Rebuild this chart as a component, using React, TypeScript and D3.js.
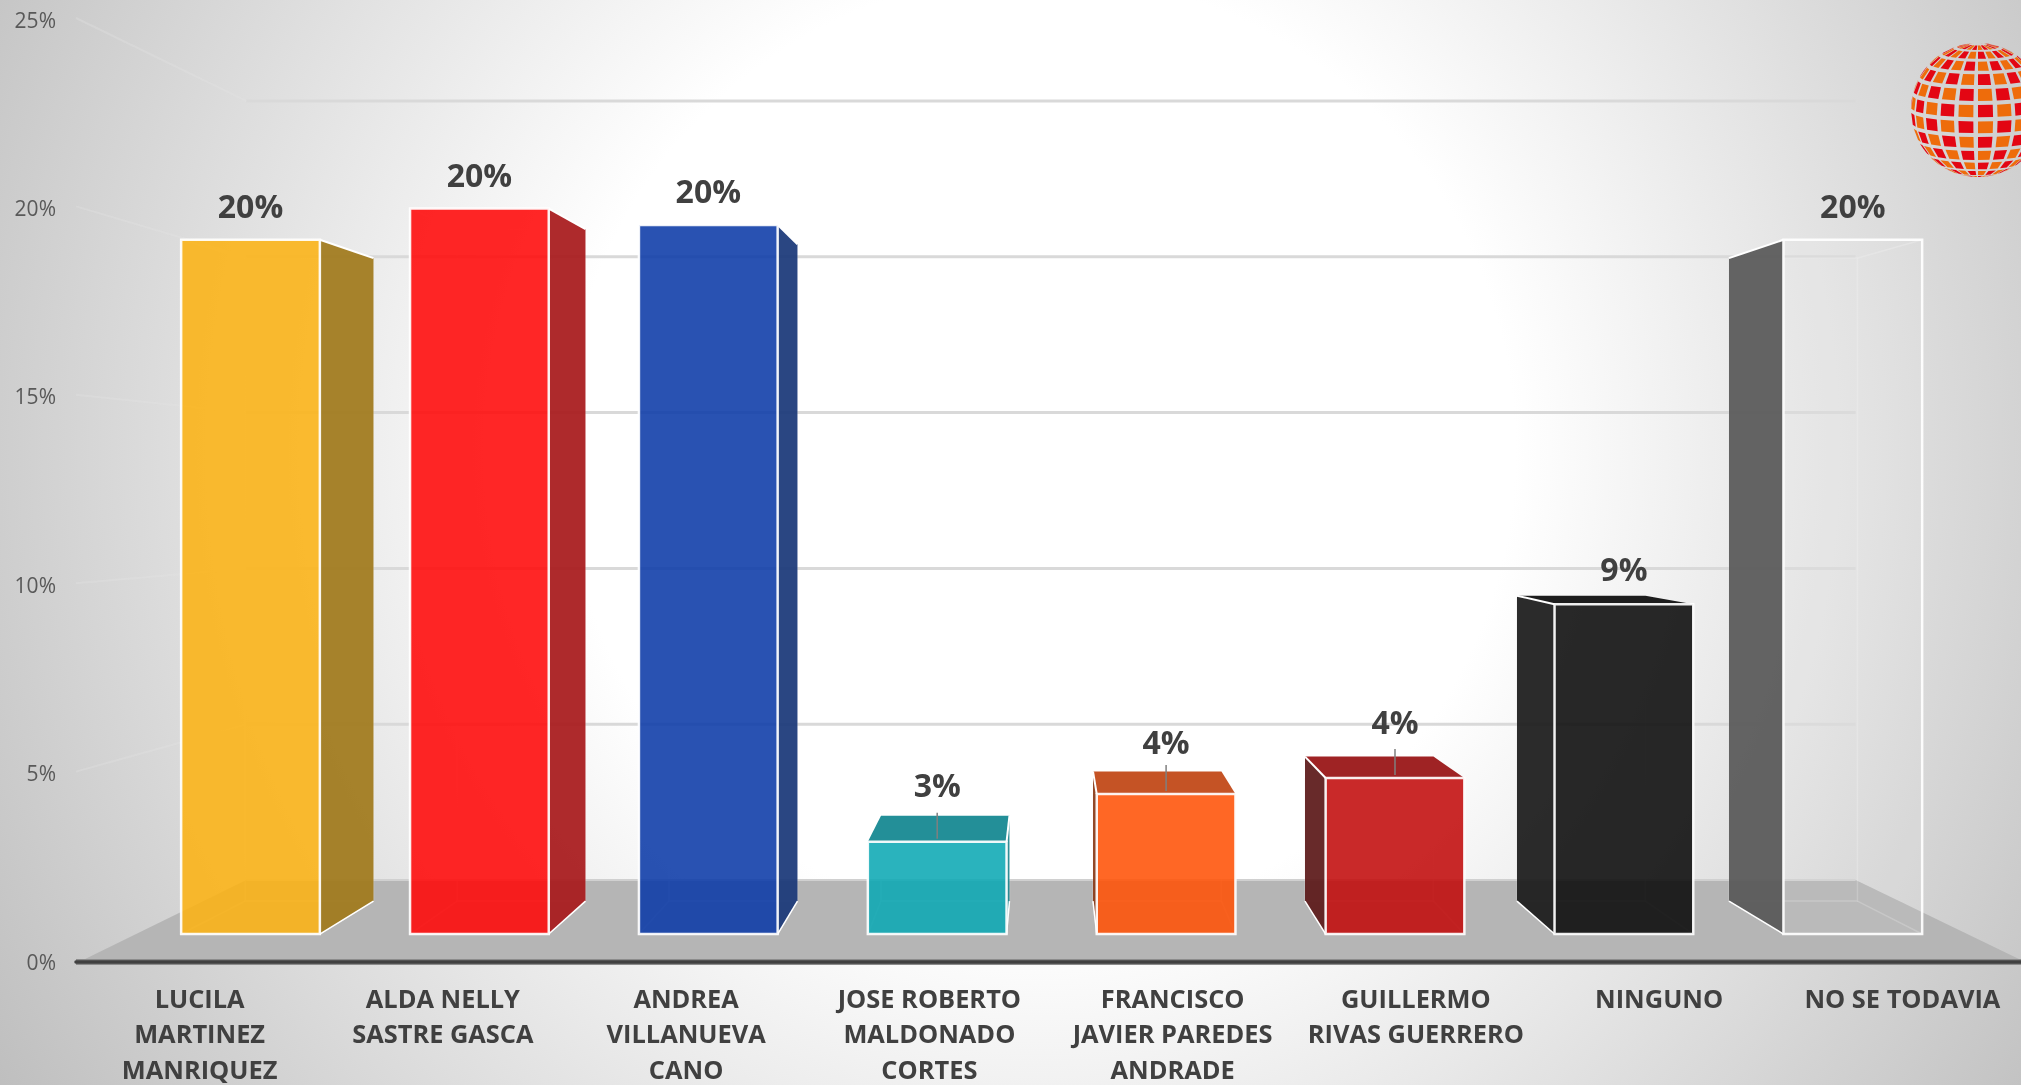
import React from "react";
import * as d3 from "d3";

const categories = [
  ["LUCILA", "MARTINEZ", "MANRIQUEZ"],
  ["ALDA NELLY", "SASTRE GASCA"],
  ["ANDREA", "VILLANUEVA", "CANO"],
  ["JOSE ROBERTO", "MALDONADO", "CORTES"],
  ["FRANCISCO", "JAVIER PAREDES", "ANDRADE"],
  ["GUILLERMO", "RIVAS GUERRERO"],
  ["NINGUNO"],
  ["NO SE TODAVIA"],
];
const values = [19.58, 20.46, 20.0, 2.6, 3.95, 4.4, 9.3, 19.58];
const frontColors = ["#fcb314", "#ff0808", "#0b3aa7", "#0ca9b4", "#ff5207", "#c10b0b", "#0a0a0a", "#ffffff"];
const frontOpacity = [0.88, 0.88, 0.88, 0.88, 0.88, 0.88, 0.88, 0.07];
const sideColors = ["#a07a1c", "#a81a1c", "#1a3878", "#1f858f", "#8a3a18", "#5c1a1a", "#1b1b1b", "#585858"];
const topColors = ["#a07a1c", "#a81a1c", "#1a3878", "#238f98", "#c55325", "#9f2324", "#1d1d1d", "#585858"];
const ticks = [0, 5, 10, 15, 20, 25];
const labelGaps = [22, 22, 22, 45, 40, 44, 23, 22];

const W = 2021, H = 1085;
const cx = 1046;
const kFront = 0.941, kBack = 0.8715, kWall = 0.827;
const xLeft = 79, xRight = 2025;

const y = d3.scaleLinear().domain([0, 25]).range([962, 20]);
const xBand = d3.scaleBand<number>().domain(d3.range(categories.length)).range([xLeft, xRight]).paddingInner(0.394).paddingOuter(0.197);
const fmt = (v: number) => d3.format(".0f")(v) + "%";

// perspective projection towards the vanishing point at depth k
const P = (x: number, v: number, k: number): [number, number] => [
  cx + (x - cx) * k,
  962 - (1 - k) * 474 - (962 - y(v)) * k,
];
const poly = (pts: [number, number][]) => (d3.line()(pts) as string) + "Z";
const seg = (a: [number, number], b: [number, number]) => d3.line()([a, b]) as string;

// logo
const proj = d3.geoOrthographic().scale(67).translate([1978, 110]).rotate([8, -8, 0]).clipAngle(90);
const geo = d3.geoPath(proj);
const logoCells: { d: string; c: string }[] = [];
{
  const lonStep = 17, latStep = 14;
  for (let i = 0; i < Math.floor(360 / lonStep); i++) {
    for (let j = -6; j < 6; j++) {
      const l0 = -180 + i * lonStep + 2, l1 = l0 + lonStep - 4;
      const p0 = j * latStep + 1.8, p1 = p0 + latStep - 3.6;
      const d = geo({ type: "Polygon", coordinates: [[[l0, p0], [l0, p1], [l1, p1], [l1, p0], [l0, p0]]] } as any);
      if (d) logoCells.push({ d, c: (i + j + 100) % 2 === 0 ? "#e30613" : "#ee6c0b" });
    }
  }
}

function Bar({ i }: { i: number }) {
  const v = values[i];
  const x0 = xBand(i) as number, x1 = x0 + xBand.bandwidth();
  const leftSide = (x0 + x1) / 2 > cx;
  const fb = (x: number, k: number) => P(x, 0, k);
  const ft = (x: number, k: number) => P(x, v, k);
  const sx = leftSide ? x0 : x1;
  const frontTop = ft(x0, kFront)[1];
  const backTop = ft(x0, kBack)[1];
  const topVisible = frontTop > backTop;
  const inner = "rgba(255,255,255,0.2)";
  return (
    <g>
      <path d={poly([fb(x0, kBack), fb(x1, kBack), ft(x1, kBack), ft(x0, kBack)])} fill="none" stroke={inner} strokeWidth={1.5} />
      {[x0, x1].map((x) => (
        <g key={x}>
          <path d={seg(fb(x, kFront), fb(x, kBack))} stroke={inner} strokeWidth={1.5} fill="none" />
          {!topVisible && <path d={seg(ft(x, kFront), ft(x, kBack))} stroke={inner} strokeWidth={1.5} fill="none" />}
        </g>
      ))}
      {topVisible && (
        <path d={poly([ft(x0, kFront), ft(x1, kFront), ft(x1, kBack), ft(x0, kBack)])} fill={topColors[i]} />
      )}
      <path d={poly([fb(sx, kFront), ft(sx, kFront), ft(sx, kBack), fb(sx, kBack)])} fill={sideColors[i]} fillOpacity={0.93} />
      <path d={seg(ft(sx, kFront), ft(sx, kBack))} stroke="#fff" strokeWidth={2} fill="none" />
      <path d={seg(fb(sx, kFront), fb(sx, kBack))} stroke="#fff" strokeWidth={1.5} fill="none" />
      <path
        d={poly([fb(x0, kFront), fb(x1, kFront), ft(x1, kFront), ft(x0, kFront)])}
        fill={frontColors[i]}
        fillOpacity={frontOpacity[i]}
        stroke="#fff"
        strokeOpacity={0.92}
        strokeWidth={2.5}
      />
    </g>
  );
}

export default function App() {
  const mono: React.CSSProperties = { fontFamily: "'Open Sans', sans-serif" };
  return (
    <svg width={W} height={H} viewBox={`0 0 ${W} ${H}`} style={{ position: "fixed", left: 0, top: 0, display: "block" }}>
      <defs>
        <radialGradient id="bg" gradientUnits="userSpaceOnUse" cx={1040} cy={450} r={1250}>
          <stop offset="0.38" stopColor="#ffffff" />
          <stop offset="1" stopColor="#bcbcbc" />
        </radialGradient>
      </defs>
      <rect width={W} height={H} fill="url(#bg)" />

      {/* side-wall gridlines */}
      {ticks.slice(1).map((t) => (
        <path key={t} d={seg([76, y(t) - 2], P(xLeft, t, kWall))} stroke="#e6e6e6" strokeOpacity={0.3} strokeWidth={2} fill="none" />
      ))}
      {/* back-wall gridlines */}
      {ticks.slice(1).map((t) => (
        <path key={t} d={seg(P(xLeft, t, kWall), P(xRight, t, kWall))} stroke="#d9d9d9" strokeWidth={3} fill="none" />
      ))}
      {/* floor */}
      <path d={poly([P(xLeft, 0, 1), P(xRight, 0, 1), P(xRight, 0, kWall), P(xLeft, 0, kWall)])} fill="#b5b5b5" />
      <path d={seg(P(xLeft, 0, kWall), P(xRight, 0, kWall))} stroke="#d0d0d0" strokeWidth={2} fill="none" />
      <path d={seg([76, 962], [W, 962])} stroke="#8c8c8c" strokeWidth={6} />
      <path d={seg([76, 962], [W, 962])} stroke="#404040" strokeWidth={3.5} strokeLinecap="round" />

      {values.map((_, i) => <Bar key={i} i={i} />)}

      {/* leaders */}
      {values.map((v, i) => {
        if (v >= 5) return null;
        const c = (xBand(i) as number) + xBand.bandwidth() / 2;
        const [px, py] = P(c, v, kFront);
        return <path key={i} d={seg([px, py - 3], [px, py - 29])} stroke="#7f7f7f" strokeWidth={1.5} fill="none" />;
      })}

      {/* value labels */}
      {values.map((v, i) => {
        const c = (xBand(i) as number) + xBand.bandwidth() / 2;
        const [px, py] = P(c, v, kFront);
        return (
          <text key={i} x={px} y={py - labelGaps[i]} textAnchor="middle" fontSize={32} fontWeight={700} fill="#404040" style={mono}>
            {fmt(v)}
          </text>
        );
      })}

      {/* value axis */}
      {ticks.map((t) => (
        <text key={t} x={56} y={y(t) + 7.5} textAnchor="end" fontSize={21} fill="#595959" style={mono}>
          {t}%
        </text>
      ))}

      {/* category labels */}
      {categories.map((lines, i) => (
        <text key={i} textAnchor="middle" fontSize={25.4} fontWeight={700} fill="#404040" style={mono}>
          {lines.map((l, j) => (
            <tspan key={j} x={(xBand(i) as number) + xBand.bandwidth() / 2 - 1} y={1007.5 + j * 35.5}>{l}</tspan>
          ))}
        </text>
      ))}

      {/* logo */}
      <g>
        {logoCells.map((c, i) => <path key={i} d={c.d} fill={c.c} />)}
      </g>
    </svg>
  );
}
